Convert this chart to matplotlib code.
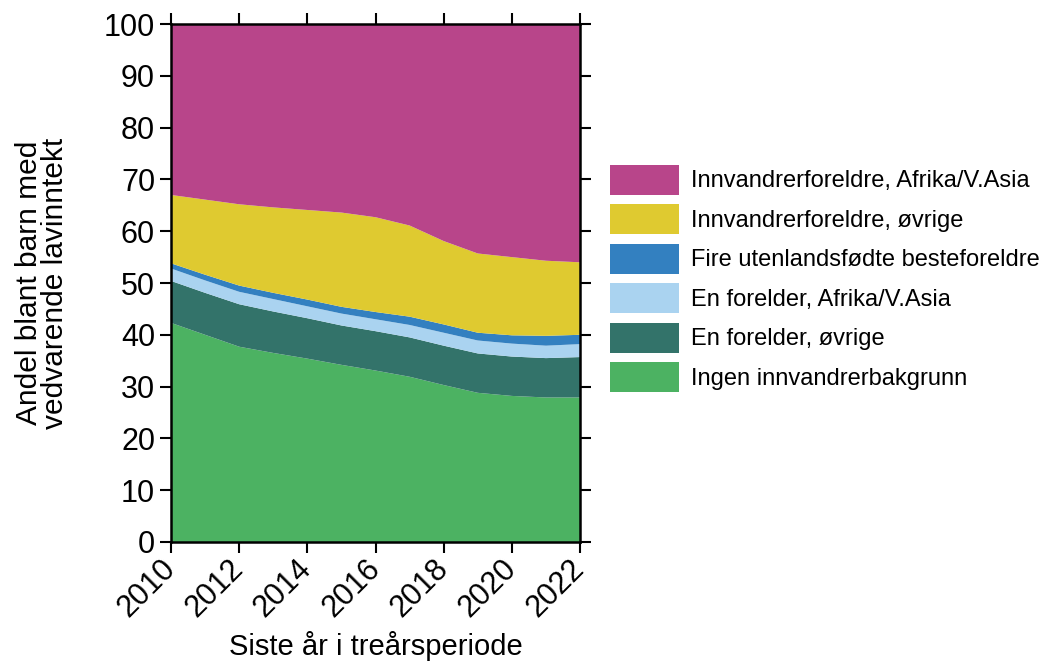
import numpy as np
import matplotlib
matplotlib.use('Agg')
import matplotlib.pyplot as plt

plt.rcParams['font.family'] = ['Liberation Sans', 'DejaVu Sans']

years = list(range(2010, 2023))

# Andel (prosent) per gruppe, lest av figuren (kumulative grenser omregnet til lag)
ingen = [42.3, 40.0, 37.7, 36.5, 35.4, 34.2, 33.1, 31.9, 30.3, 28.8, 28.2, 27.9, 27.9]
en_ovrige_top = [50.4, 48.1, 45.9, 44.5, 43.2, 41.8, 40.7, 39.5, 37.9, 36.4, 35.8, 35.5, 35.7]
en_afrika_top = [52.8, 50.5, 48.3, 46.9, 45.5, 44.1, 43.0, 41.9, 40.4, 38.9, 38.3, 37.9, 38.2]
fire_top = [53.8, 51.6, 49.5, 48.1, 46.8, 45.4, 44.4, 43.5, 42.0, 40.4, 39.9, 39.8, 40.0]
innv_ovrige_top = [67.0, 66.1, 65.2, 64.6, 64.1, 63.6, 62.7, 61.1, 58.1, 55.7, 55.0, 54.3, 54.0]
total = [100.0] * 13

labels = ["Ingen innvandrerbakgrunn", "En forelder, øvrige",
          "En forelder, Afrika/V.Asia", "Fire utenlandsfødte besteforeldre",
          "Innvandrerforeldre, øvrige", "Innvandrerforeldre, Afrika/V.Asia"]
colors = ["#4cb262", "#33736a", "#aad3f0", "#3380c0", "#dfca30", "#b8458a"]

tops = [ingen, en_ovrige_top, en_afrika_top, fire_top, innv_ovrige_top, total]
layers = [np.array(tops[0])] + [np.array(tops[i]) - np.array(tops[i - 1])
                                for i in range(1, len(tops))]

fig = plt.figure(figsize=(10.41, 6.62), dpi=100)
ax = fig.add_axes([0.1643, 0.1813, 0.5572 - 0.1643, 0.9637 - 0.1813])

ax.stackplot(years, *layers, colors=colors, labels=labels, linewidth=0)

ax.set_xlim(2010, 2022)
ax.set_ylim(0, 100)
ax.set_xticks(range(2010, 2023, 2))
ax.set_yticks(range(0, 101, 10))
ax.tick_params(axis='both', which='major', labelsize=22, length=8, width=1.5,
               direction='out', top=True, right=True, color='black')
ax.tick_params(axis='x', pad=8)
for lab in ax.get_xticklabels():
    lab.set_rotation(45)
    lab.set_ha('right')
    lab.set_va('center')
    lab.set_rotation_mode('anchor')
for sp in ax.spines.values():
    sp.set_linewidth(1.8)
    sp.set_color('black')

ax.set_xlabel("Siste år i treårsperiode", fontsize=21, labelpad=6)
ax.set_ylabel("Andel blant barn med\nvedvarende lavinntekt", fontsize=21.5,
              linespacing=0.93, labelpad=25)

handles, labs = ax.get_legend_handles_labels()
leg = ax.legend(handles[::-1], labs[::-1], loc='center left',
                bbox_to_anchor=(1.045, 0.509), frameon=False, fontsize=17,
                handlelength=2.92, handleheight=1.58, labelspacing=0.4,
                handletextpad=0.5, borderpad=0)

fig.savefig("out.png", dpi=100)
